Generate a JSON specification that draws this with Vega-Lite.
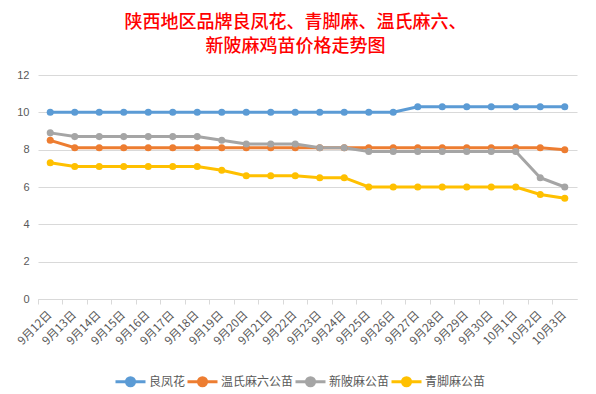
{
  "$schema": "https://vega.github.io/schema/vega-lite/v6.json",
  "width": 539,
  "height": 224,
  "autosize": {"type": "none"},
  "padding": {"left": 38, "top": 75, "right": 19, "bottom": 95},
  "background": "white",
  "title": {
    "text": ["陕西地区品牌良凤花、青脚麻、温氏麻六、", "新陂麻鸡苗价格走势图"],
    "color": "#ff0000",
    "font": "Noto Sans CJK SC",
    "fontSize": 18,
    "fontWeight": 500,
    "lineHeight": 24,
    "anchor": "middle",
    "dx": -12,
    "offset": 13
  },
  "data": {
    "values": [
      {"date": "9月12日", "series": "良凤花", "price": 10},
      {"date": "9月13日", "series": "良凤花", "price": 10},
      {"date": "9月14日", "series": "良凤花", "price": 10},
      {"date": "9月15日", "series": "良凤花", "price": 10},
      {"date": "9月16日", "series": "良凤花", "price": 10},
      {"date": "9月17日", "series": "良凤花", "price": 10},
      {"date": "9月18日", "series": "良凤花", "price": 10},
      {"date": "9月19日", "series": "良凤花", "price": 10},
      {"date": "9月20日", "series": "良凤花", "price": 10},
      {"date": "9月21日", "series": "良凤花", "price": 10},
      {"date": "9月22日", "series": "良凤花", "price": 10},
      {"date": "9月23日", "series": "良凤花", "price": 10},
      {"date": "9月24日", "series": "良凤花", "price": 10},
      {"date": "9月25日", "series": "良凤花", "price": 10},
      {"date": "9月26日", "series": "良凤花", "price": 10},
      {"date": "9月27日", "series": "良凤花", "price": 10.3},
      {"date": "9月28日", "series": "良凤花", "price": 10.3},
      {"date": "9月29日", "series": "良凤花", "price": 10.3},
      {"date": "9月30日", "series": "良凤花", "price": 10.3},
      {"date": "10月1日", "series": "良凤花", "price": 10.3},
      {"date": "10月2日", "series": "良凤花", "price": 10.3},
      {"date": "10月3日", "series": "良凤花", "price": 10.3},
      {"date": "9月12日", "series": "温氏麻六公苗", "price": 8.5},
      {"date": "9月13日", "series": "温氏麻六公苗", "price": 8.1},
      {"date": "9月14日", "series": "温氏麻六公苗", "price": 8.1},
      {"date": "9月15日", "series": "温氏麻六公苗", "price": 8.1},
      {"date": "9月16日", "series": "温氏麻六公苗", "price": 8.1},
      {"date": "9月17日", "series": "温氏麻六公苗", "price": 8.1},
      {"date": "9月18日", "series": "温氏麻六公苗", "price": 8.1},
      {"date": "9月19日", "series": "温氏麻六公苗", "price": 8.1},
      {"date": "9月20日", "series": "温氏麻六公苗", "price": 8.1},
      {"date": "9月21日", "series": "温氏麻六公苗", "price": 8.1},
      {"date": "9月22日", "series": "温氏麻六公苗", "price": 8.1},
      {"date": "9月23日", "series": "温氏麻六公苗", "price": 8.1},
      {"date": "9月24日", "series": "温氏麻六公苗", "price": 8.1},
      {"date": "9月25日", "series": "温氏麻六公苗", "price": 8.1},
      {"date": "9月26日", "series": "温氏麻六公苗", "price": 8.1},
      {"date": "9月27日", "series": "温氏麻六公苗", "price": 8.1},
      {"date": "9月28日", "series": "温氏麻六公苗", "price": 8.1},
      {"date": "9月29日", "series": "温氏麻六公苗", "price": 8.1},
      {"date": "9月30日", "series": "温氏麻六公苗", "price": 8.1},
      {"date": "10月1日", "series": "温氏麻六公苗", "price": 8.1},
      {"date": "10月2日", "series": "温氏麻六公苗", "price": 8.1},
      {"date": "10月3日", "series": "温氏麻六公苗", "price": 8.0},
      {"date": "9月12日", "series": "新陂麻公苗", "price": 8.9},
      {"date": "9月13日", "series": "新陂麻公苗", "price": 8.7},
      {"date": "9月14日", "series": "新陂麻公苗", "price": 8.7},
      {"date": "9月15日", "series": "新陂麻公苗", "price": 8.7},
      {"date": "9月16日", "series": "新陂麻公苗", "price": 8.7},
      {"date": "9月17日", "series": "新陂麻公苗", "price": 8.7},
      {"date": "9月18日", "series": "新陂麻公苗", "price": 8.7},
      {"date": "9月19日", "series": "新陂麻公苗", "price": 8.5},
      {"date": "9月20日", "series": "新陂麻公苗", "price": 8.3},
      {"date": "9月21日", "series": "新陂麻公苗", "price": 8.3},
      {"date": "9月22日", "series": "新陂麻公苗", "price": 8.3},
      {"date": "9月23日", "series": "新陂麻公苗", "price": 8.1},
      {"date": "9月24日", "series": "新陂麻公苗", "price": 8.1},
      {"date": "9月25日", "series": "新陂麻公苗", "price": 7.9},
      {"date": "9月26日", "series": "新陂麻公苗", "price": 7.9},
      {"date": "9月27日", "series": "新陂麻公苗", "price": 7.9},
      {"date": "9月28日", "series": "新陂麻公苗", "price": 7.9},
      {"date": "9月29日", "series": "新陂麻公苗", "price": 7.9},
      {"date": "9月30日", "series": "新陂麻公苗", "price": 7.9},
      {"date": "10月1日", "series": "新陂麻公苗", "price": 7.9},
      {"date": "10月2日", "series": "新陂麻公苗", "price": 6.5},
      {"date": "10月3日", "series": "新陂麻公苗", "price": 6.0},
      {"date": "9月12日", "series": "青脚麻公苗", "price": 7.3},
      {"date": "9月13日", "series": "青脚麻公苗", "price": 7.1},
      {"date": "9月14日", "series": "青脚麻公苗", "price": 7.1},
      {"date": "9月15日", "series": "青脚麻公苗", "price": 7.1},
      {"date": "9月16日", "series": "青脚麻公苗", "price": 7.1},
      {"date": "9月17日", "series": "青脚麻公苗", "price": 7.1},
      {"date": "9月18日", "series": "青脚麻公苗", "price": 7.1},
      {"date": "9月19日", "series": "青脚麻公苗", "price": 6.9},
      {"date": "9月20日", "series": "青脚麻公苗", "price": 6.6},
      {"date": "9月21日", "series": "青脚麻公苗", "price": 6.6},
      {"date": "9月22日", "series": "青脚麻公苗", "price": 6.6},
      {"date": "9月23日", "series": "青脚麻公苗", "price": 6.5},
      {"date": "9月24日", "series": "青脚麻公苗", "price": 6.5},
      {"date": "9月25日", "series": "青脚麻公苗", "price": 6.0},
      {"date": "9月26日", "series": "青脚麻公苗", "price": 6.0},
      {"date": "9月27日", "series": "青脚麻公苗", "price": 6.0},
      {"date": "9月28日", "series": "青脚麻公苗", "price": 6.0},
      {"date": "9月29日", "series": "青脚麻公苗", "price": 6.0},
      {"date": "9月30日", "series": "青脚麻公苗", "price": 6.0},
      {"date": "10月1日", "series": "青脚麻公苗", "price": 6.0},
      {"date": "10月2日", "series": "青脚麻公苗", "price": 5.6},
      {"date": "10月3日", "series": "青脚麻公苗", "price": 5.4}
    ]
  },
  "encoding": {
    "x": {
      "field": "date",
      "type": "ordinal",
      "sort": ["9月12日","9月13日","9月14日","9月15日","9月16日","9月17日","9月18日","9月19日","9月20日","9月21日","9月22日","9月23日","9月24日","9月25日","9月26日","9月27日","9月28日","9月29日","9月30日","10月1日","10月2日","10月3日"],
      "scale": {"type": "band", "paddingInner": 0, "paddingOuter": 0},
      "axis": {
        "title": null,
        "labelAngle": -45,
        "labelAlign": "right",
        "labelBaseline": "middle",
        "labelFont": "Noto Sans CJK SC",
        "labelFontSize": 11.5,
        "labelColor": "#595959",
        "labelPadding": 9,
        "domainColor": "#d9d9d9",
        "tickColor": "#d9d9d9",
        "tickSize": 5,
        "bandPosition": 0,
        "grid": false
      }
    },
    "y": {
      "field": "price",
      "type": "quantitative",
      "scale": {"domain": [0, 12]},
      "axis": {
        "title": null,
        "values": [0, 2, 4, 6, 8, 10, 12],
        "domain": false,
        "ticks": false,
        "labelColor": "#595959",
        "labelFont": "Liberation Sans",
        "labelFontSize": 11,
        "labelPadding": 9,
        "gridColor": "#d9d9d9"
      }
    },
    "color": {
      "field": "series",
      "type": "nominal",
      "sort": ["良凤花", "温氏麻六公苗", "新陂麻公苗", "青脚麻公苗"],
      "scale": {
        "domain": ["良凤花", "温氏麻六公苗", "新陂麻公苗", "青脚麻公苗"],
        "range": ["#5B9BD5", "#ED7D31", "#A5A5A5", "#FFC000"]
      },
      "legend": {
        "title": null,
        "orient": "none",
        "direction": "horizontal",
        "legendX": 76,
        "legendY": 290,
        "symbolType": "M-1,0H1M0.27,0A0.27,0.27,0,1,1,-0.27,0A0.27,0.27,0,1,1,0.27,0",
        "symbolSize": 900,
        "symbolStrokeWidth": 3,
        "labelFont": "Noto Sans CJK SC",
        "labelFontSize": 12,
        "labelColor": "#595959",
        "labelOffset": 2,
        "columnPadding": -12,
        "encode": {
          "symbols": {"update": {"fill": {"scale": "color", "field": "value"}, "stroke": {"scale": "color", "field": "value"}}}
        }
      }
    }
  },
  "layer": [
    {"mark": {"type": "line", "strokeWidth": 3}},
    {"mark": {"type": "point", "filled": true, "size": 50, "opacity": 1}}
  ],
  "config": {"view": {"stroke": null}}
}
